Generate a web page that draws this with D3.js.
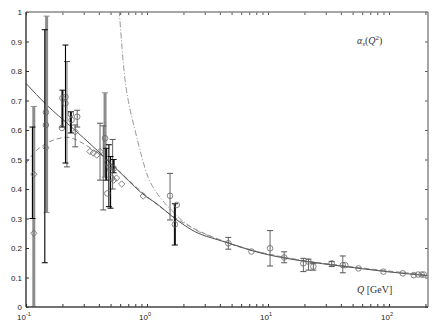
<!DOCTYPE html>
<html>
<head>
<meta charset="utf-8">
<script src="https://cdn.jsdelivr.net/npm/d3@7"></script>
<style>
  body { margin: 0; background: #fff; }
  svg { display: block; }
  .tick text { font-family: Arial, "Liberation Sans", sans-serif; font-size: 8px; fill: #222; }
</style>
</head>
<body>
<div id="chart"></div>
<script>
// curves
const solidQ = [0.1, 0.148, 0.23, 0.39, 0.62, 1.0, 1.16, 1.7, 2.5, 3.9, 4.7, 7.5, 15, 20, 40, 90, 210];
const solidA = [0.758, 0.685, 0.615, 0.53, 0.45, 0.372, 0.355, 0.30, 0.255, 0.227, 0.217, 0.19, 0.163, 0.155, 0.139, 0.121, 0.106];

const dashedQ = [0.1, 0.123, 0.144, 0.174, 0.222, 0.28, 0.338, 0.41, 0.5, 0.62, 1.0, 1.7, 3.9, 15, 40, 210];
const dashedA = [0.487, 0.532, 0.552, 0.568, 0.575, 0.56, 0.54, 0.518, 0.49, 0.452, 0.375, 0.303, 0.229, 0.165, 0.141, 0.108];

const dashDotQ = [0.57, 0.59, 0.658, 0.70, 0.796, 0.904, 1.02, 1.16, 1.41, 1.6, 1.87, 2.5, 3.9, 7.5, 20, 90, 210];
const dashDotA = [1.08, 1.0, 0.77, 0.70, 0.60, 0.51, 0.44, 0.397, 0.351, 0.328, 0.30, 0.262, 0.23, 0.192, 0.157, 0.122, 0.107];

// data points
const circleQ = [0.146, 0.146, 0.20, 0.212, 0.212, 0.198, 0.235, 0.238, 0.265, 0.45, 0.47, 0.49, 0.51, 0.47, 0.50, 0.53,
                 1.55, 1.7, 1.76, 4.7, 7.3, 10.4, 13.6, 19.6, 21.6, 23.7, 33.6, 41.5, 43.5, 56, 90, 130, 160, 174, 186, 194];
const circleA = [0.66, 0.617, 0.708, 0.712, 0.69, 0.607, 0.654, 0.634, 0.645, 0.572, 0.49, 0.475, 0.437, 0.385, 0.464, 0.47,
                 0.377, 0.28, 0.346, 0.216, 0.188, 0.199, 0.168, 0.148, 0.154, 0.137, 0.148, 0.142, 0.142, 0.131, 0.12, 0.114, 0.108, 0.11, 0.11, 0.11];

const diamondQ = [0.116, 0.116, 0.146, 0.255, 0.338, 0.36, 0.384, 0.409, 0.53, 0.56, 0.618, 0.93];
const diamondA = [0.45, 0.25, 0.54, 0.594, 0.527, 0.522, 0.515, 0.527, 0.43, 0.437, 0.417, 0.376];

// error bars: [Q, low, high]
const grayThickBars = [[0.116, 0.0, 0.68], [0.148, 0.32, 0.986], [0.45, 0.44, 0.726]];
const blackThinBars = [[0.113, 0.30, 0.61], [0.143, 0.15, 0.94], [0.212, 0.488, 0.888], [0.484, 0.34, 0.55], [0.50, 0.335, 0.51]];
const blackThickBars = [[0.20, 0.61, 0.735], [0.235, 0.59, 0.662], [0.46, 0.43, 0.538], [0.53, 0.455, 0.50], [1.7, 0.21, 0.35]];
const grayThinBars = [[0.218, 0.475, 0.832], [0.265, 0.61, 0.667], [0.255, 0.543, 0.617], [0.409, 0.43, 0.623],
                      [0.435, 0.329, 0.614], [0.52, 0.40, 0.568], [1.55, 0.295, 0.453], [4.7, 0.196, 0.236],
                      [10.4, 0.139, 0.259], [13.6, 0.15, 0.187], [19.6, 0.12, 0.165], [21.6, 0.125, 0.162],
                      [23.7, 0.125, 0.148], [33.6, 0.137, 0.154], [41.5, 0.116, 0.173]];

const yTicks = [0, 0.1, 0.2, 0.3, 0.4, 0.5, 0.6, 0.7, 0.8, 0.9, 1];
const decadeTicks = [0.1, 1, 10, 100];
const decadeExp = ['-1', '0', '1', '2'];

const W = 436, H = 327;
const margin = { top: 12, right: 8, bottom: 20, left: 26 };

const svg = d3.select('#chart').append('svg').attr('width', W).attr('height', H);

const x = d3.scaleLog().domain([0.1, 210]).range([margin.left, W - margin.right]);
const y = d3.scaleLinear().domain([0, 1]).range([H - margin.bottom, margin.top]);

svg.append('clipPath').attr('id', 'clip')
  .append('rect')
  .attr('x', margin.left).attr('y', margin.top)
  .attr('width', W - margin.left - margin.right)
  .attr('height', H - margin.top - margin.bottom);

const plot = svg.append('g').attr('clip-path', 'url(#clip)');

const line = d3.line()
  .x(d => x(d[0]))
  .y(d => y(d[1]))
  .curve(d3.curveMonotoneX);

const zip = (a, b) => a.map((v, i) => [v, b[i]]);

plot.append('path').datum(zip(dashedQ, dashedA))
  .attr('d', line).attr('fill', 'none')
  .attr('stroke', '#8a8a8a').attr('stroke-width', 1).attr('stroke-dasharray', '5,3');

plot.append('path').datum(zip(dashDotQ, dashDotA))
  .attr('d', line).attr('fill', 'none')
  .attr('stroke', '#999').attr('stroke-width', 1).attr('stroke-dasharray', '6,2,1,2');

plot.append('path').datum(zip(solidQ, solidA))
  .attr('d', line).attr('fill', 'none')
  .attr('stroke', '#555').attr('stroke-width', 1);

// error bars
function drawBars(bars, color, width, cap) {
  const g = plot.append('g').attr('stroke', color).attr('stroke-width', width);
  bars.forEach(b => {
    const bx = x(b[0]);
    g.append('line').attr('x1', bx).attr('x2', bx).attr('y1', y(b[1])).attr('y2', y(b[2]));
    [b[1], b[2]].forEach(v => {
      g.append('line').attr('x1', bx - cap).attr('x2', bx + cap)
        .attr('y1', y(v)).attr('y2', y(v)).attr('stroke-width', 1);
    });
  });
}
drawBars(grayThickBars, '#8c8c8c', 3, 3);
drawBars(grayThinBars, '#555', 0.9, 3);
drawBars(blackThickBars, '#111', 2, 3);
drawBars(blackThinBars, '#000', 1.1, 3);

// markers
plot.append('g').selectAll('circle')
  .data(zip(circleQ, circleA))
  .join('circle')
  .attr('cx', d => x(d[0])).attr('cy', d => y(d[1]))
  .attr('r', 2.8)
  .attr('fill', 'none').attr('stroke', '#666').attr('stroke-width', 0.8);

plot.append('g').selectAll('path')
  .data(zip(diamondQ, diamondA))
  .join('path')
  .attr('d', d => {
    const cx = x(d[0]), cy = y(d[1]), s = 3.2;
    return `M${cx},${cy - s}L${cx + s},${cy}L${cx},${cy + s}L${cx - s},${cy}Z`;
  })
  .attr('fill', 'none').attr('stroke', '#666').attr('stroke-width', 0.8);

// axes
const yBottom = H - margin.bottom, yTop = margin.top;
const xLeft = margin.left, xRight = W - margin.right;
const logTicks = x.ticks().filter(d => d <= 210);

svg.append('g').attr('transform', `translate(${xLeft},0)`)
  .call(d3.axisLeft(y).tickValues(yTicks).tickSizeInner(-3).tickSizeOuter(0).tickPadding(4)
    .tickFormat(d => String(+d.toFixed(1))))
  .call(g => g.select('.domain').remove())
  .call(g => g.selectAll('.tick line').attr('stroke', '#333'));

svg.append('g').attr('transform', `translate(${xRight},0)`)
  .call(d3.axisRight(y).tickValues(yTicks).tickSizeInner(-3).tickSizeOuter(0).tickFormat(''))
  .call(g => g.select('.domain').remove())
  .call(g => g.selectAll('.tick line').attr('stroke', '#555'));

svg.append('g').attr('transform', `translate(0,${yBottom})`)
  .call(d3.axisBottom(x).tickValues(logTicks).tickSizeInner(-3).tickSizeOuter(0).tickFormat(''))
  .call(g => g.select('.domain').remove())
  .call(g => g.selectAll('.tick line').attr('stroke', '#333'));

svg.append('g').attr('transform', `translate(0,${yTop})`)
  .call(d3.axisTop(x).tickValues(logTicks).tickSizeInner(-3).tickSizeOuter(0).tickFormat(''))
  .call(g => g.select('.domain').remove())
  .call(g => g.selectAll('.tick line').attr('stroke', '#555'));

// frame
svg.append('line').attr('x1', xLeft).attr('x2', xRight).attr('y1', yTop).attr('y2', yTop)
  .attr('stroke', '#888').attr('stroke-width', 1.5);
svg.append('line').attr('x1', xRight).attr('x2', xRight).attr('y1', yTop).attr('y2', yBottom)
  .attr('stroke', '#888').attr('stroke-width', 1.5);
svg.append('line').attr('x1', xLeft).attr('x2', xRight).attr('y1', yBottom).attr('y2', yBottom)
  .attr('stroke', '#444').attr('stroke-width', 1.3);
svg.append('line').attr('x1', xLeft).attr('x2', xLeft).attr('y1', yTop).attr('y2', yBottom)
  .attr('stroke', '#222').attr('stroke-width', 1.3);

// decade labels
const dl = svg.append('g')
  .attr('font-family', 'Arial, "Liberation Sans", sans-serif')
  .attr('font-size', 8).attr('fill', '#222');
decadeTicks.forEach((d, i) => {
  const t = dl.append('text').attr('x', x(d) - 2).attr('y', yBottom + 13).attr('text-anchor', 'middle');
  t.append('tspan').text('10');
  t.append('tspan').attr('dy', -4).attr('font-size', 5.5).text(decadeExp[i]);
});

// labels
const serif = '"Liberation Serif", "DejaVu Serif", serif';
const al = svg.append('text').attr('x', 357).attr('y', 44)
  .attr('font-family', serif).attr('font-size', 10).attr('fill', '#333');
al.append('tspan').attr('font-style', 'italic').text('α');
al.append('tspan').attr('dy', 2).attr('font-size', 7).attr('font-style', 'italic').text('s');
al.append('tspan').attr('dy', -2).text('(');
al.append('tspan').attr('font-style', 'italic').text('Q');
al.append('tspan').attr('dy', -4).attr('font-size', 7).text('2');
al.append('tspan').attr('dy', 4).text(')');

const ql = svg.append('text').attr('x', 357).attr('y', 293)
  .attr('font-family', serif).attr('font-size', 10).attr('fill', '#333');
ql.append('tspan').attr('font-style', 'italic').text('Q');
ql.append('tspan').text(' [GeV]');
</script>
</body>
</html>
